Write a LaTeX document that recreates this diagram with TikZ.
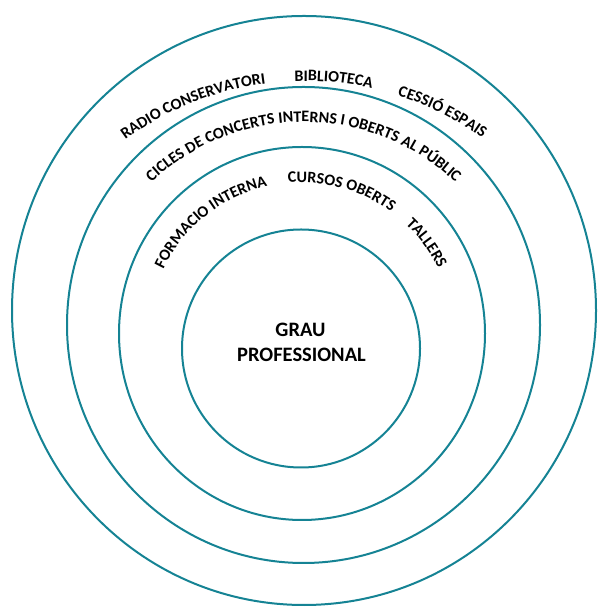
\documentclass[tikz,border=0pt]{standalone}
\usepackage{fontspec}
\setmainfont{Carlito}
\usetikzlibrary{decorations.text}
\definecolor{ringteal}{RGB}{21,131,148}
\newcommand{\ringfont}{\fontsize{16}{19}\selectfont\bfseries}
\tikzset{
  ring/.style={draw=ringteal, line width=2pt},
  ringtext/.style={decorate, decoration={text along path, text align=center, text={|\ringfont|#1}}},
  coretext/.style={anchor=base, font=\fontsize{20.5}{25}\selectfont\bfseries}
}
\begin{document}
\begin{tikzpicture}[x=1pt,y=1pt]
\useasboundingbox (0,0) rectangle (597,607);
\draw[ring] (304,296.5) ellipse [x radius=292pt, y radius=294.5pt];
\draw[ring] (303.5,282) ellipse [x radius=236.5pt, y radius=238pt];
\draw[ring] (302,273.5) ellipse [x radius=183pt, y radius=186.5pt];
\draw[ring] (301,258.5) circle [radius=119pt];
\path[ringtext={RADIO CONSERVATORI}] (305,223) ++(131.4:303pt) arc [start angle=131.4, end angle=92.4, radius=303pt];
\path[ringtext={BIBLIOTECA}] (305,223) ++(96.6:303pt) arc [start angle=96.6, end angle=72.6, radius=303pt];
\path[ringtext={CESSIÓ ESPAIS}] (305,223) ++(77.5:303pt) arc [start angle=77.5, end angle=48.9, radius=303pt];
\path[ringtext={CICLES DE CONCERTS INTERNS I OBERTS AL PÚBLIC}] (303.5,264) ++(138:221pt) arc [start angle=138, end angle=42, radius=221pt];
\path[ringtext={FORMACIO INTERNA}] (301,272) ++(160.6:152.5pt) arc [start angle=160.6, end angle=96.5, radius=152.5pt];
\path[ringtext={CURSOS OBERTS}] (301,272) ++(100.3:152.5pt) arc [start angle=100.3, end angle=48.2, radius=152.5pt];
\path[ringtext={TALLERS}] (301,272) ++(52.3:152.5pt) arc [start angle=52.3, end angle=20.2, radius=152.5pt];
\node[coretext] (grau) at (300.5,270) {GRAU};
\node[coretext] (professional) at (301.5,245) {PROFESSIONAL};
\end{tikzpicture}
\end{document}
